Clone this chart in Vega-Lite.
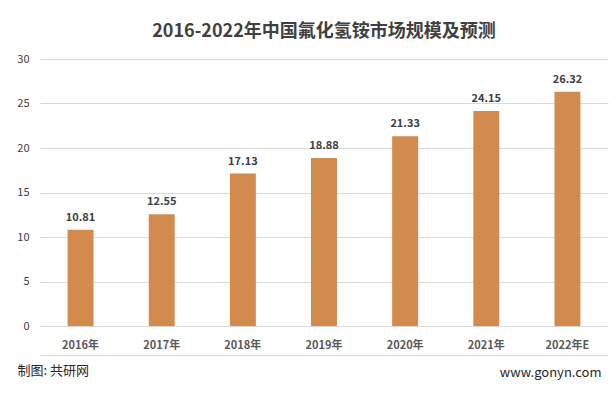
{
  "$schema": "https://vega.github.io/schema/vega-lite/v6.json",
  "width": 568,
  "height": 267,
  "autosize": {"type": "none"},
  "padding": {"left": 40, "top": 59, "right": 7, "bottom": 67},
  "background": "#ffffff",
  "config": {
    "view": {"stroke": null},
    "font": "Noto Sans CJK SC"
  },
  "title": {
    "text": "2016-2022年中国氟化氢铵市场规模及预测",
    "fontSize": 18,
    "fontWeight": "bold",
    "color": "#404040",
    "anchor": "middle",
    "offset": 12
  },
  "data": {
    "values": [
      {"year": "2016年", "value": 10.81},
      {"year": "2017年", "value": 12.55},
      {"year": "2018年", "value": 17.13},
      {"year": "2019年", "value": 18.88},
      {"year": "2020年", "value": 21.33},
      {"year": "2021年", "value": 24.15},
      {"year": "2022年E", "value": 26.32}
    ]
  },
  "encoding": {
    "x": {
      "field": "year",
      "type": "nominal",
      "sort": null,
      "scale": {"paddingInner": 0.68, "paddingOuter": 0.34},
      "axis": {
        "title": "制图: 共研网",
        "titleFontSize": 13,
        "titleFontWeight": "normal",
        "titleColor": "#262626",
        "titleAnchor": "start",
        "titleAlign": "left",
        "titleX": -23,
        "titlePadding": 9,
        "labelAngle": 0,
        "labelFontSize": 11,
        "labelFontWeight": "bold",
        "labelColor": "#595959",
        "labelPadding": -16,
        "offset": 29,
        "ticks": false,
        "domain": true,
        "domainColor": "#D9D9D9",
        "domainWidth": 1
      }
    },
    "y": {
      "field": "value",
      "type": "quantitative",
      "scale": {"domain": [0, 30]},
      "axis": {
        "title": null,
        "values": [0, 5, 10, 15, 20, 25, 30],
        "labelFontSize": 11,
        "labelColor": "#404040",
        "labelPadding": 11,
        "ticks": false,
        "domain": false,
        "grid": true,
        "gridColor": "#D9D9D9"
      }
    }
  },
  "layer": [
    {
      "mark": {"type": "bar", "color": "#D38B4D"}
    },
    {
      "mark": {
        "type": "text",
        "baseline": "bottom",
        "dy": -7,
        "fontSize": 11,
        "fontWeight": "bold",
        "color": "#404040"
      },
      "encoding": {
        "text": {"field": "value", "type": "quantitative", "format": ".2f"},
        "y": {
          "field": "value",
          "type": "quantitative",
          "axis": {
            "orient": "right",
            "title": "www.gonyn.com",
            "titleAngle": 0,
            "titleFontSize": 13,
            "titleFontWeight": "normal",
            "titleColor": "#262626",
            "titleAlign": "right",
            "titleBaseline": "middle",
            "titleX": -7,
            "titleY": 313,
            "labels": false,
            "ticks": false,
            "domain": false,
            "grid": false
          }
        }
      }
    }
  ],
  "resolve": {"axis": {"y": "independent"}}
}
